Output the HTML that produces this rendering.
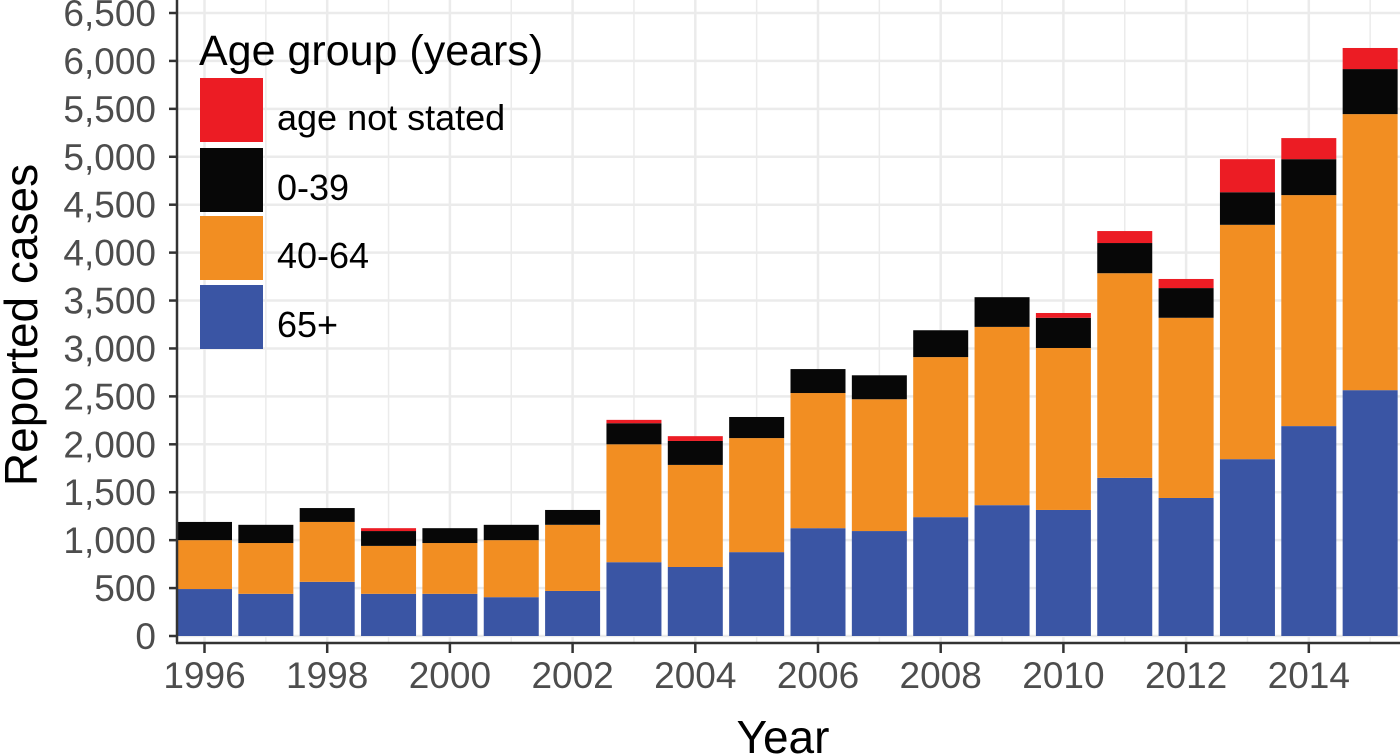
<!DOCTYPE html>
<html><head><meta charset="utf-8"><style>
body{margin:0;background:#fff;}
svg{display:block;font-family:"Liberation Sans",Arial,sans-serif;}
</style></head><body>
<svg id="chart" width="1400" height="755" viewBox="0 0 1400 755"></svg>
<script>
const years=[1996,1997,1998,1999,2000,2001,2002,2003,2004,2005,2006,2007,2008,2009,2010,2011,2012,2013,2014,2015];
const age65=[490,440,565,440,440,405,470,770,720,875,1125,1095,1240,1365,1315,1650,1440,1845,2190,2565];
const age40=[510,530,625,500,530,595,690,1230,1065,1190,1410,1375,1670,1860,1690,2135,1880,2445,2410,2880];
const age0=[190,190,145,155,155,160,155,220,250,220,250,250,280,310,315,315,310,340,375,470];
const ageNS=[0,0,0,30,0,0,0,35,50,0,0,0,0,0,50,125,95,345,220,220];
const yTicks=[0,500,1000,1500,2000,2500,3000,3500,4000,4500,5000,5500,6000,6500];
const xTickYears=[1996,1998,2000,2002,2004,2006,2008,2010,2012,2014];
const ns="http://www.w3.org/2000/svg";
const svg=document.getElementById('chart');
const X0=177,X1=1400,Y0=636,YT=13,PB=643;
const pitch=61.35, firstC=204.5, barW=55;
const xs=y=>firstC+(y-1996)*pitch;
const ys=v=>Y0-v*(Y0-YT)/6500;
function mk(t,a){const e=document.createElementNS(ns,t);for(const k in a)e.setAttribute(k,a[k]);svg.appendChild(e);return e;}
for(const t of yTicks){const g=mk('line',{x1:X0,x2:X1,y1:ys(t),y2:ys(t),stroke:'#ebebeb','stroke-width':2.5});

}
for(let i=0;i<years.length;i++){const yv=years[i];const g=mk('line',{x1:xs(yv),x2:xs(yv),y1:0,y2:PB,stroke:'#ebebeb','stroke-width':yv%2===0?2.5:1.5});

}
const series=[[age65,'#3a55a4','65+'],[age40,'#f28e22','40-64'],[age0,'#070707','0-39'],[ageNS,'#ec1c24','not-stated']];
years.forEach((yv,i)=>{let base=0;for(const [arr,col,nm] of series){const v=arr[i];if(v>0){const r=mk('rect',{x:xs(yv)-barW/2,y:ys(base+v),width:barW,height:ys(base)-ys(base+v),fill:col});

}base+=v;}});
let a=mk('line',{x1:X0,x2:X0,y1:0,y2:PB,stroke:'#333','stroke-width':2.5});


a=mk('line',{x1:X0-1,x2:X1,y1:PB,y2:PB,stroke:'#333','stroke-width':2.5});


for(const t of yTicks){mk('line',{x1:X0-8,x2:X0,y1:ys(t),y2:ys(t),stroke:'#333','stroke-width':2.5});
const tx=mk('text',{x:156,y:ys(t)+13,'text-anchor':'end','font-size':37,fill:'#4d4d4d'});tx.textContent=t.toLocaleString('en-US');

}
for(const yv of xTickYears){mk('line',{x1:xs(yv),x2:xs(yv),y1:PB,y2:PB+10,stroke:'#333','stroke-width':2.5});
const tx=mk('text',{x:xs(yv),y:688,'text-anchor':'middle','font-size':37,fill:'#4d4d4d'});tx.textContent=yv;

}
let t=mk('text',{x:783,y:753,'text-anchor':'middle','font-size':46,fill:'#000'});t.textContent='Year';


t=mk('text',{x:0,y:0,'text-anchor':'middle','font-size':46,fill:'#000',transform:'translate(37,325) rotate(-90)'});t.textContent='Reported cases';


t=mk('text',{x:199,y:65,'font-size':43,fill:'#000'});t.textContent='Age group (years)';


const leg=[['#ec1c24','age not stated',78],['#070707','0-39',148],['#f28e22','40-64',216],['#3a55a4','65+',285]];
for(const [c,l,y] of leg){const r=mk('rect',{x:200,y:y,width:63,height:64,fill:c});


const tx=mk('text',{x:277,y:y+52,'font-size':36,fill:'#000'});tx.textContent=l;

}
</script>
</body></html>
